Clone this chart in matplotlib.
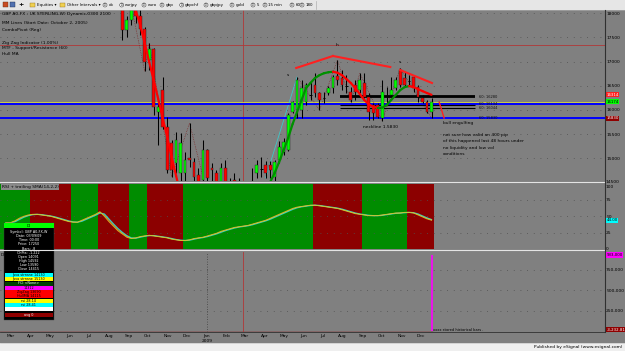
import numpy as np
import pandas as pd
import matplotlib
matplotlib.use("Agg")
import matplotlib.pyplot as plt
from matplotlib.patches import Rectangle, Circle
from matplotlib.transforms import blended_transform_factory as blend

W, H = 625, 351
BG = "#808080"
FS = 3.2

# weekly bars, bar 0 = week of 2008-02-22, prices x10000
bar_start = pd.Timestamp("2008-02-22")
first_bar = 25
opens = [18700, 18150, 17650, 17850, 18060, 17950, 17680, 17030, 17270, 15950,
         16410, 15650, 15320, 14910, 14700, 14700, 15000, 14930, 14650, 14560,
         15180, 14800, 14700, 14300, 14800, 14400, 14550, 14500, 14200, 14000,
         14400, 14700, 14800, 14870, 14870, 14620, 14970, 15140, 15180, 15960,
         16000, 16000, 16160, 16300, 16510, 16350, 16250, 16350, 16450, 16700,
         16660, 16500, 16370, 16510, 16410, 16560, 16270, 16100, 16100, 15840,
         16300, 16310, 16450, 16820, 16660, 16600, 16680, 16470, 16250, 16160,
         15960]
highs = [18800, 18250, 17950, 18150, 18200, 18080, 17720, 17380, 17290, 16200,
         16680, 15850, 15380, 15550, 15520, 15140, 15730, 15000, 14800, 15380,
         15200, 14900, 14750, 14900, 14970, 14600, 14700, 14600, 14400, 14300,
         14800, 14970, 15030, 14950, 14950, 14970, 15350, 15420, 15930, 16180,
         16680, 16620, 16550, 16580, 16760, 16370, 16370, 16500, 16720, 17030,
         16820, 16720, 16470, 16620, 16760, 16760, 16350, 16140, 16140, 16620,
         16470, 16680, 16680, 16860, 16780, 16720, 16720, 16510, 16310, 16200,
         16250]
lows = [18200, 17440, 17500, 17750, 17800, 17550, 16800, 16830, 15900, 15280,
        15600, 14700, 14620, 14700, 14400, 14400, 14830, 14400, 14300, 14300,
        14300, 14200, 13500, 14100, 14200, 14000, 14200, 14000, 13800, 13700,
        14200, 14600, 14620, 14600, 14600, 14500, 14900, 15080, 15150, 15940,
        15840, 15840, 16100, 16200, 16270, 16000, 16140, 16300, 16350, 16510,
        16410, 16350, 16160, 16200, 16350, 16250, 15790, 15790, 15830, 15780,
        16140, 16270, 16410, 16470, 16470, 16510, 16370, 16160, 16140, 15940,
        15840]
closes = [18300, 17650, 17850, 18060, 17950, 17680, 17000, 17270, 16060, 16060,
          15650, 14770, 14770, 15380, 15320, 14970, 14970, 14620, 14500, 15180,
          14600, 14750, 13800, 14800, 14400, 14250, 14520, 14200, 14000, 14100,
          14380, 14870, 14790, 14700, 14750, 14930, 15240, 15340, 15900, 16160,
          16620, 16450, 16510, 16310, 16350, 16200, 16240, 16450, 16680, 16620,
          16510, 16490, 16200, 16370, 16620, 16270, 15960, 15940, 15860, 16370,
          16290, 16410, 16620, 16510, 16510, 16590, 16470, 16270, 16160, 15960,
          16174]
hull = [19000, 18800, 18500, 18250, 18058, 17750, 17380, 16990, 16620, 16230,
        15835, 15445, 15030, 14640, 14250, 14000, 13900, 13800, 13750, 13700,
        13700, 13650, 13600, 13600, 13650, 13700, 13750, 13850, 13950, 14050,
        14150, 14250, 14350, 14420, 14512, 14700, 14926, 15174, 15420, 15710,
        15960, 16207, 16455, 16560, 16660, 16720, 16760, 16780, 16790, 16770,
        16720, 16640, 16556, 16450, 16330, 16206, 16120, 16060, 16040, 16050,
        16100, 16206, 16310, 16410, 16473, 16494, 16473, 16430, 16390, 16350,
        16314]

# zigzag swing points (bar, price)
zz_bars = [28, 31, 32, 37, 41, 47]
zz_prices = [18150, 16800, 17380, 14620, 15730, 13500]
zz_up_bars = [58, 65]
zz_up_prices = [14600, 16680]
zz2_bars = [65, 70, 74, 77, 79, 84, 88, 95]
zz2_prices = [16680, 16000, 17030, 16160, 16760, 15780, 16860, 15840]

# horizontal levels
cursor_price = 17340
cursor_bar = 53
yellow_level = 16158
blue_levels = [16123, 15830]
sr_levels = [16295, 16260, 16110, 16044]
sr_labels = ["60: 16280", "60: 16134", "60: 16044", "60: 15830"]
sr_label_prices = [16275, 16120, 16035, 15830]

# RSI (14) per bar
rsi = [40, 40, 43, 47, 50, 52, 53, 53, 52, 51, 50, 48, 46, 44, 42, 41, 41, 44, 47, 50,
       53, 57, 50, 42, 35, 28, 23, 18, 16, 17, 19, 20, 21, 20, 19, 18, 17, 15, 14, 13,
       13, 14, 16, 17, 18, 20, 22, 24, 27, 29, 31, 33, 34, 35, 36, 38, 40, 42, 44, 47,
       50, 53, 56, 59, 62, 64, 65, 66, 67, 67, 66, 65, 64, 63, 62, 60, 58, 56, 54, 53,
       52, 51, 51, 51, 52, 53, 54, 55, 55, 56, 56, 55, 52, 49, 46, 44]
band_edges = [6, 15, 21, 28, 32, 40, 69, 80, 90]

# lower pane
spike_value = 933000
avg_value = -3232.81

month_labels = ["Mar", "Apr", "May", "Jun", "Jul", "Aug", "Sep", "Oct", "Nov", "Dec", "Jan",
                "Feb", "Mar", "Apr", "May", "Jun", "Jul", "Aug", "Sep", "Oct", "Nov", "Dec"]
month_starts = pd.date_range("2008-03-01", "2009-12-01", freq="MS")
month_pos = (month_starts - bar_start).days / 7.0

price_ticks = [15000, 15500, 16000, 16500, 17000, 17500, 18000]


def rect(x0, y0, x1, y1):
    return [x0 / W, 1 - y1 / H, (x1 - x0) / W, (y1 - y0) / H]


k = 24.2 / 500.0
XL = (-1.295, 133.6)
fig = plt.figure(figsize=(6.25, 3.51), dpi=100, facecolor=BG)

# ---- price pane
ax = fig.add_axes(rect(0, 10, 604.5, 181), facecolor=BG)
ax.set_xlim(*XL)
ax.set_ylim(16000 - 71 / k, 16000 + 100 / k)
bars = np.arange(first_bar, first_bar + len(closes))
o, hi, lo, c = map(np.array, (opens, highs, lows, closes))
ax.vlines(bars, lo, hi, color="black", lw=0.75, zorder=3)
doji = np.abs(c - o) < 30
cols = np.where(c >= o, "#00ff00", "#ff0000")
ax.bar(bars[~doji], np.abs(c - o)[~doji], bottom=np.minimum(o, c)[~doji], width=0.62,
       color=cols[~doji], edgecolor="#202020", linewidth=0.3, zorder=4)
ax.hlines(c[doji], bars[doji] - 0.3, bars[doji] + 0.3, color="black", lw=0.7, zorder=4)

hv = np.array(hull)
for i in range(len(hv) - 1):
    col = "#009000" if hv[i + 1] > hv[i] else "#ff0000"
    ax.plot(bars[i:i + 2], hv[i:i + 2], color=col, lw=1.6, zorder=5, solid_capstyle="round")

ax.plot(zz_bars, zz_prices, color="#7a2020", lw=0.5, ls=(0, (1, 1.5)), zorder=2)
ax.plot(zz2_bars, zz2_prices, color="#7a2020", lw=0.5, ls=(0, (1, 1.5)), zorder=2)
ax.plot(zz_up_bars, zz_up_prices, color="#40c8c8", lw=0.6, zorder=2)

ax.axhline(cursor_price, color="#b03838", lw=0.6, zorder=1)
ax.axvline(cursor_bar, color="#b03838", lw=0.6, zorder=1)
ax.axhline(yellow_level, color="#d8d840", lw=0.6, zorder=1)
for lv in blue_levels:
    ax.axhline(lv, color="#0000ff", lw=1.4, zorder=2)
for j, lv in enumerate(sr_levels):
    ax.hlines(lv, 74.6, 104.8, color="black", lw=1.3 if j < 2 else 0.8, zorder=2)
for lab, lp in zip(sr_labels, sr_label_prices):
    ax.text(105.6, lp, lab, fontsize=2.6, va="center", ha="left", color="#101010")

# drawn trendlines
ax.plot([64.8, 73.0], [16868, 17116], color="#ff2020", lw=1.5, zorder=6)
ax.plot([73.0, 85.8], [17116, 16888], color="#ff2020", lw=1.5, zorder=6)
ax.plot([88.0, 95.1], [16826, 16558], color="#ff2020", lw=1.5, zorder=6)
ax.plot([96.7, 97.8], [16165, 15835], color="#ff2020", lw=1.0, zorder=6)

ax.text(73.9, 17343, "h", fontsize=FS, ha="center", va="center")
ax.text(63.0, 16723, "s", fontsize=FS, ha="center", va="center")
ax.text(88.0, 16992, "s", fontsize=FS, ha="center", va="center")
ax.text(79.7, 15649, "neckline 1.5830", fontsize=FS, ha="left", va="center")
ax.text(97.6, 15731, "bull engulfing", fontsize=FS, ha="left", va="center")
note = ["not sure how valid an 400 pip", "of this happened last 48 hours under",
        "no liquidity and low vol", "conditions"]
for j, line in enumerate(note):
    ax.text(97.6, 15483 - j * 130, line, fontsize=FS, ha="left", va="center")

ax.set_yticks(price_ticks)
ax.set_yticklabels([str(t) for t in price_ticks])
ax.yaxis.tick_right()
ax.tick_params(axis="y", length=0, pad=1.2, labelsize=FS)
ax.set_xticks([])
ax.grid(axis="y", color="#505050", lw=0.6, ls=(0, (1, 7)))
for s in ax.spines.values():
    s.set_visible(False)

tr = blend(ax.transAxes, ax.transData)
tags = [(16314, "16314", "#ff2020", "white"), (16174, "16174", "#00ff00", "black"),
        (15830, "15830", "#900000", "white")]
for p, t, fc, tc in tags:
    ax.text(1.003, p, t, transform=tr, fontsize=2.8, color=tc, va="center", ha="left",
            bbox=dict(boxstyle="square,pad=0.15", fc=fc, ec="none"), clip_on=False)

# ---- RSI pane
ar = fig.add_axes(rect(0, 183.6, 604.5, 249), facecolor=BG)
ar.set_xlim(*XL)
ar.set_ylim(0, 100)
edges = [XL[0] + 0.5] + band_edges + [len(rsi)]
for j in range(len(edges) - 1):
    ar.axvspan(edges[j] - 0.5, edges[j + 1] - 0.5, color="#008c00" if j % 2 == 0 else "#8c0000",
               lw=0, zorder=0)
rs = pd.Series(rsi, dtype=float)
sma = rs.rolling(2, min_periods=1).mean()
xr = np.arange(len(rsi))
ar.plot(xr, sma, color="#30c8d0", lw=0.9, zorder=3)
ar.plot(xr, rs, color="#e0a020", lw=0.7, zorder=4)
ar.plot(xr, (rs + sma) / 2, color="#b8e040", lw=0.4, zorder=5)
ar.set_yticks([25, 50, 75])
ar.set_yticklabels(["25", "50", "75"])
ar.yaxis.tick_right()
ar.tick_params(axis="y", length=0, pad=1.2, labelsize=FS)
ar.set_xticks([])
ar.grid(axis="y", color="#505050", lw=0.6, ls=(0, (1, 7)))
for s in ar.spines.values():
    s.set_visible(False)
trr = blend(ar.transAxes, ar.transData)
ar.text(1.003, rsi[-1], f"{rsi[-1]:.2f}", transform=trr, fontsize=2.8, va="center",
        bbox=dict(boxstyle="square,pad=0.15", fc="#00ffff", ec="none"), clip_on=False)

# ---- lower pane
ab = fig.add_axes(rect(0, 251.5, 604.5, 332), facecolor=BG)
ab.set_xlim(*XL)
ab.set_ylim(-6100, 975600)
ab.vlines([len(rsi) - 1], 0, spike_value, color="#ff00ff", lw=1.2, zorder=3)
ab.plot([XL[0], len(rsi) - 1], [avg_value, avg_value], color="#900000", lw=1.0, zorder=2)
ab.axvline(cursor_bar, color="#b03838", lw=0.6)
ab.axvline(month_pos[10], color="#404040", lw=0.6, ls=(0, (1, 2)))
ab.set_yticks([250000, 500000, 750000])
ab.set_yticklabels(["250,000", "500,000", "750,000"])
ab.yaxis.tick_right()
ab.tick_params(axis="y", length=0, pad=1.2, labelsize=FS)
ab.set_xticks(month_pos)
ab.set_xticklabels(month_labels)
ab.tick_params(axis="x", length=0, pad=1.5, labelsize=FS)
ab.grid(axis="y", color="#505050", lw=0.6, ls=(0, (1, 7)))
for s in ab.spines.values():
    s.set_visible(False)
trb = blend(ab.transAxes, ab.transData)
ab.text(1.003, spike_value, "933,000", transform=trb, fontsize=2.8, va="center",
        bbox=dict(boxstyle="square,pad=0.15", fc="#ff00ff", ec="none"), clip_on=False)
ab.text(1.003, 20000, "-3,232.81", transform=trb, fontsize=2.8, va="center", color="white",
        bbox=dict(boxstyle="square,pad=0.15", fc="#900000", ec="none"), clip_on=False)
ab.text(len(rsi) - 0.6, 20000, "xxxx stored historical bars .", fontsize=2.6, va="center")

# ---- overlay in pixel coordinates
ov = fig.add_axes([0, 0, 1, 1], zorder=10)
ov.set_xlim(0, W)
ov.set_ylim(H, 0)
ov.axis("off")
ov.patch.set_alpha(0)

ov.add_patch(Rectangle((0, 0), W, 9.6, fc="#e6e6e6", ec="none"))
ov.plot([0, W], [9.6, 9.6], color="#a8a8a8", lw=0.5)
ov.add_patch(Rectangle((3, 2.3), 5, 5, fc="#c84a20", ec="#603010", lw=0.3))
ov.add_patch(Rectangle((10, 2.3), 5, 5, fc="#5070b0", ec="#203050", lw=0.3))
ov.text(20.5, 5, "+", fontsize=4.5, ha="center", va="center", fontweight="bold")
for fx, lab in [(30, "Equities \u25be"), (60, "Other Intervals \u25be")]:
    ov.add_patch(Rectangle((fx, 2.8), 5, 4, fc="#f0d050", ec="#907020", lw=0.3))
    ov.text(fx + 7, 5, lab, fontsize=2.9, va="center")
tool_items = ["dx", "eurjpy", "euro", "gbp", "gbpchf", "gbpjpy", "gold", "5", "15 min", "60", "180"]
tool_x = [105, 121.7, 144, 162, 181.7, 206, 232, 253, 265, 292, 302]
for tx, lab in zip(tool_x, tool_items):
    ov.add_patch(Circle((tx, 5), 2.0, fc="#f8f8f8", ec="#303030", lw=0.35))
    ov.text(tx, 5.1, "D", fontsize=1.8, ha="center", va="center")
    ov.text(tx + 3.3, 5, lab, fontsize=2.9, va="center")
ov.plot([316, 316], [1, 9], color="#b0b0b0", lw=0.5)

ov.text(2, 14, "GBP A0-FX - UK STERLING,W) Dynamic,0300 2100", fontsize=FS, va="center")
for ty, lab in [(23.5, "MM Lines (Start Date: October 2, 2005)"), (30, "ComboPivot (Reg)"),
                (42.7, "Zig Zag Indicator (1.00%)"), (48.5, "MTF - Support/Resistance (60)"),
                (54, "Hull MA")]:
    ov.text(2, ty, lab, fontsize=FS, va="center")

ov.plot([0, 604.5], [181.8, 181.8], color="#e4e4e4", lw=0.8)
ov.plot([0, 604.5], [250.4, 250.4], color="#e4e4e4", lw=0.8)
ov.plot([0, 604.5], [332.2, 332.2], color="#303030", lw=0.6)
ov.plot([604.5, 604.5], [10, 332.2], color="#303030", lw=0.8)
ov.text(606, 181.6, "14500", fontsize=FS, va="center")
ov.text(606, 186.5, "100", fontsize=FS, va="center")
ov.text(606, 248.6, "0", fontsize=FS, va="center")
ov.text(1.5, 186.8, "RSI + trailing SMA(14,2,2)", fontsize=FS, va="center",
        bbox=dict(boxstyle="square,pad=0.2", fc="#8a8a8a", ec="none"))
ov.text(1, 254.5, "D", fontsize=FS, va="center")
ov.text(5.8 + 4.48 * month_pos[10], 340.5, "2009", fontsize=FS, ha="center", va="center")

ov.add_patch(Rectangle((0, 343.4), W, 8, fc="#efefef", ec="none"))
ov.plot([0, W], [343.4, 343.4], color="#c8c8c8", lw=0.5)
ov.text(622, 347.4, "Published by eSignal (www.esignal.com)", fontsize=FS, ha="right", va="center")

# data window
ov.add_patch(Rectangle((4, 223), 49.5, 97, fc="black", ec="#404040", lw=0.3))
ov.add_patch(Rectangle((4, 223), 49.5, 5.2, fc="#00ff00", ec="none"))
ov.text(28.7, 225.7, "DI", fontsize=2.6, ha="center", va="center")
info_rows = ["Symbol: GBP A0-FX,W", "Date: 03/09/09", "Time: 00:00", "Price: 17250",
             "Bars: -8", "ChPts: -1.222", "Open 14091", "High 14592", "Low 13590", "Close 14415"]
for j, t in enumerate(info_rows):
    ov.text(28.7, 232 + j * 4.15, t, fontsize=2.4, color="white", ha="center", va="center")
color_rows = [("#00ffff", "Java strnsne 14130", "black"), ("#ffff00", "Java strnsne 15130", "black"),
              ("#004000", "FCI <None>", "white"), ("#ff00ff", "14312", "black"),
              ("#ff0000", "ZigZag 13690", "black"), ("#ff0000", "HullMA 14115", "black"),
              ("#ffff00", "rsi 28.14", "black"), ("#00ffff", "rsi 28.41", "black"),
              ("#ffffff", "", "black")]
for j, (fc, t, tc) in enumerate(color_rows):
    y0 = 273 + j * 4.25
    ov.add_patch(Rectangle((4.5, y0), 48.5, 4.0, fc=fc, ec="none"))
    ov.text(28.7, y0 + 2, t, fontsize=2.4, color=tc, ha="center", va="center")
ov.add_patch(Rectangle((4.5, 313), 48.5, 4.0, fc="#900000", ec="none"))
ov.text(28.7, 315, "avg 0", fontsize=2.4, color="white", ha="center", va="center")

fig.savefig("out.png", dpi=100, facecolor=BG)
